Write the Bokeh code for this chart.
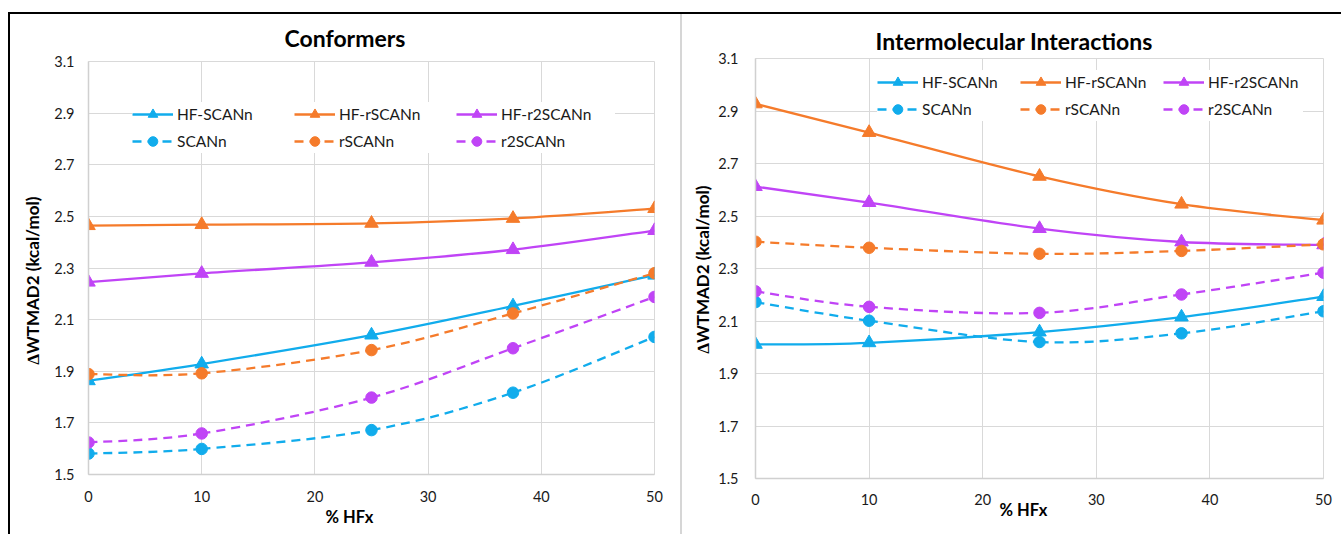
from bokeh.plotting import figure
from bokeh.models import (Range1d, FixedTicker, Legend, LegendItem, Title,
                          ColumnDataSource, Spacer)
from bokeh.layouts import row, column
from bokeh.embed import file_html
from bokeh.resources import INLINE

# ---------------- data ----------------
hfx = [0, 10, 25, 37.5, 50]

conf_hf_scan = [1.863, 1.928, 2.040, 2.153, 2.272]
conf_hf_rscan = [2.464, 2.468, 2.473, 2.492, 2.530]
conf_hf_r2scan = [2.245, 2.279, 2.322, 2.371, 2.445]
conf_scan = [1.581, 1.599, 1.672, 1.817, 2.033]
conf_rscan = [1.889, 1.892, 1.982, 2.124, 2.280]
conf_r2scan = [1.624, 1.659, 1.798, 1.989, 2.188]

inter_hf_scan = [2.011, 2.017, 2.058, 2.115, 2.193]
inter_hf_rscan = [2.927, 2.818, 2.651, 2.545, 2.484]
inter_hf_r2scan = [2.612, 2.551, 2.452, 2.401, 2.390]
inter_scan = [2.172, 2.101, 2.020, 2.053, 2.137]
inter_rscan = [2.402, 2.379, 2.356, 2.367, 2.392]
inter_r2scan = [2.213, 2.154, 2.131, 2.201, 2.284]

series_names = ["HF-SCANn", "HF-rSCANn", "HF-r2SCANn", "SCANn", "rSCANn", "r2SCANn"]
x_ticks = [0, 10, 20, 30, 40, 50]
y_ticks = [1.5, 1.7, 1.9, 2.1, 2.3, 2.5, 2.7, 2.9, 3.1]

BLUE = "#11ACEC"
ORANGE = "#F57B2B"
PURPLE = "#C044F6"
colors = [BLUE, ORANGE, PURPLE, BLUE, ORANGE, PURPLE]
dashed = [False, False, False, True, True, True]
markers = ["triangle", "triangle", "triangle", "circle", "circle", "circle"]

FONT = "Lato"
GRID = "#d9d9d9"
TXT = "#1a1a1a"


def bezier_source(xs, ys):
    n = len(xs)
    d = dict(x0=[], y0=[], x1=[], y1=[], cx0=[], cy0=[], cx1=[], cy1=[])
    for i in range(n - 1):
        xp, yp = (xs[i - 1], ys[i - 1]) if i > 0 else (xs[i], ys[i])
        xn, yn = (xs[i + 2], ys[i + 2]) if i + 2 < n else (xs[i + 1], ys[i + 1])
        d["x0"].append(xs[i]); d["y0"].append(ys[i])
        d["x1"].append(xs[i + 1]); d["y1"].append(ys[i + 1])
        d["cx0"].append(xs[i] + (xs[i + 1] - xp) / 6.0)
        d["cy0"].append(ys[i] + (ys[i + 1] - yp) / 6.0)
        d["cx1"].append(xs[i + 1] - (xn - xs[i]) / 6.0)
        d["cy1"].append(ys[i + 1] - (yn - ys[i]) / 6.0)
    return ColumnDataSource(d)


def make_panel(title, data, width, height, borders, title_cfg, xlab_cfg, ylab_cfg,
               legend_loc, label_width, ystandoff, xstandoff):
    bl, br, bt, bb = borders
    p = figure(width=width, height=height, output_backend="svg", toolbar_location=None,
               x_range=Range1d(0, 50), y_range=Range1d(1.5, 3.1),
               min_border_left=bl, min_border_right=br, min_border_top=bt,
               min_border_bottom=bb)
    p.background_fill_color = "white"
    p.border_fill_color = "white"
    p.outline_line_color = GRID
    p.xaxis.ticker = FixedTicker(ticks=x_ticks)
    p.yaxis.ticker = FixedTicker(ticks=y_ticks)
    p.xgrid.ticker = FixedTicker(ticks=x_ticks)
    p.ygrid.ticker = FixedTicker(ticks=y_ticks)
    for g in (p.xgrid, p.ygrid):
        g.grid_line_color = GRID
        g.grid_line_width = 1
    for ax in (p.xaxis, p.yaxis):
        ax.axis_line_color = "#d0d0d0"
        ax.axis_line_width = 1.5
        ax.major_tick_line_color = None
        ax.minor_tick_line_color = None
        ax.major_tick_out = 0
        ax.major_tick_in = 0
        ax.major_label_text_font = FONT
        ax.major_label_text_font_size = "14.5px"
        ax.major_label_text_color = TXT
    p.yaxis.major_label_standoff = ystandoff
    p.xaxis.major_label_standoff = xstandoff

    items = []
    for name, ys, c, dsh, mk in zip(series_names, data, colors, dashed, markers):
        src = bezier_source(hfx, ys)
        br_ = p.bezier(x0="x0", y0="y0", x1="x1", y1="y1", cx0="cx0", cy0="cy0",
                       cx1="cx1", cy1="cy1", source=src, line_color=c, line_width=2.3,
                       line_dash="9 6" if dsh else "solid")
        sr = p.scatter(hfx, ys, marker=mk, size=13.5 if mk == "triangle" else 11.5,
                       fill_color=c, line_color=c, line_width=1)
        items.append(LegendItem(label=name, renderers=[br_, sr]))

    leg = Legend(items=items, orientation="horizontal", ncols=3, location=legend_loc,
                 glyph_width=41, glyph_height=24, label_height=20, label_width=label_width,
                 label_standoff=4, spacing=3, padding=2, margin=0,
                 background_fill_color="white", background_fill_alpha=1.0,
                 border_line_color=None, label_text_font=FONT,
                 label_text_font_size="15.5px", label_text_color=TXT)
    p.add_layout(leg)

    off, so = title_cfg
    p.title.text = title
    p.title.align = "left"
    p.title.vertical_align = "middle"
    p.title.offset = off
    p.title.standoff = so
    p.title.text_font = FONT
    p.title.text_font_size = "23px"
    p.title.text_font_style = "bold"
    p.title.text_color = "black"

    off, so = xlab_cfg
    p.add_layout(Title(text="% HFx", align="left", offset=off, standoff=so,
                       text_font=FONT, text_font_size="16.5px", text_font_style="bold",
                       text_color="black"), "below")
    off, so = ylab_cfg
    p.add_layout(Title(text="\u2206WTMAD2 (kcal/mol)", align="left", offset=off,
                       vertical_align="middle",
                       standoff=so, text_font=FONT, text_font_size="17px",
                       text_font_style="bold", text_color="black"), "left")
    return p


left = make_panel("Conformers",
                  [conf_hf_scan, conf_hf_rscan, conf_hf_r2scan, conf_scan, conf_rscan, conf_r2scan],
                  670, 520, (78, 26, 47, 60), (196, 17), (237, 0), (110, 15),
                  (44, 321), 114, 14, 16)
right = make_panel("Intermolecular Interactions",
                   [inter_hf_scan, inter_hf_rscan, inter_hf_r2scan, inter_scan, inter_rscan, inter_r2scan],
                   659, 520, (73, 18, 44, 56), (120, 5), (244, -25), (125, 4),
                   (122, 357), 95, 17, 15)

top_line = row(Spacer(width=8, height=2),
               Spacer(width=1333, height=2, styles={"background-color": "black"}))
black_left = Spacer(width=2, height=520, styles={"background-color": "black"})
sep = Spacer(width=2, height=520, styles={"background-color": "#d6d6d6"})

layout = column(Spacer(width=1341, height=12), top_line,
                row(Spacer(width=8, height=520), black_left, column(left), sep, column(right)))

open("out.html", "w").write(file_html(layout, INLINE))
